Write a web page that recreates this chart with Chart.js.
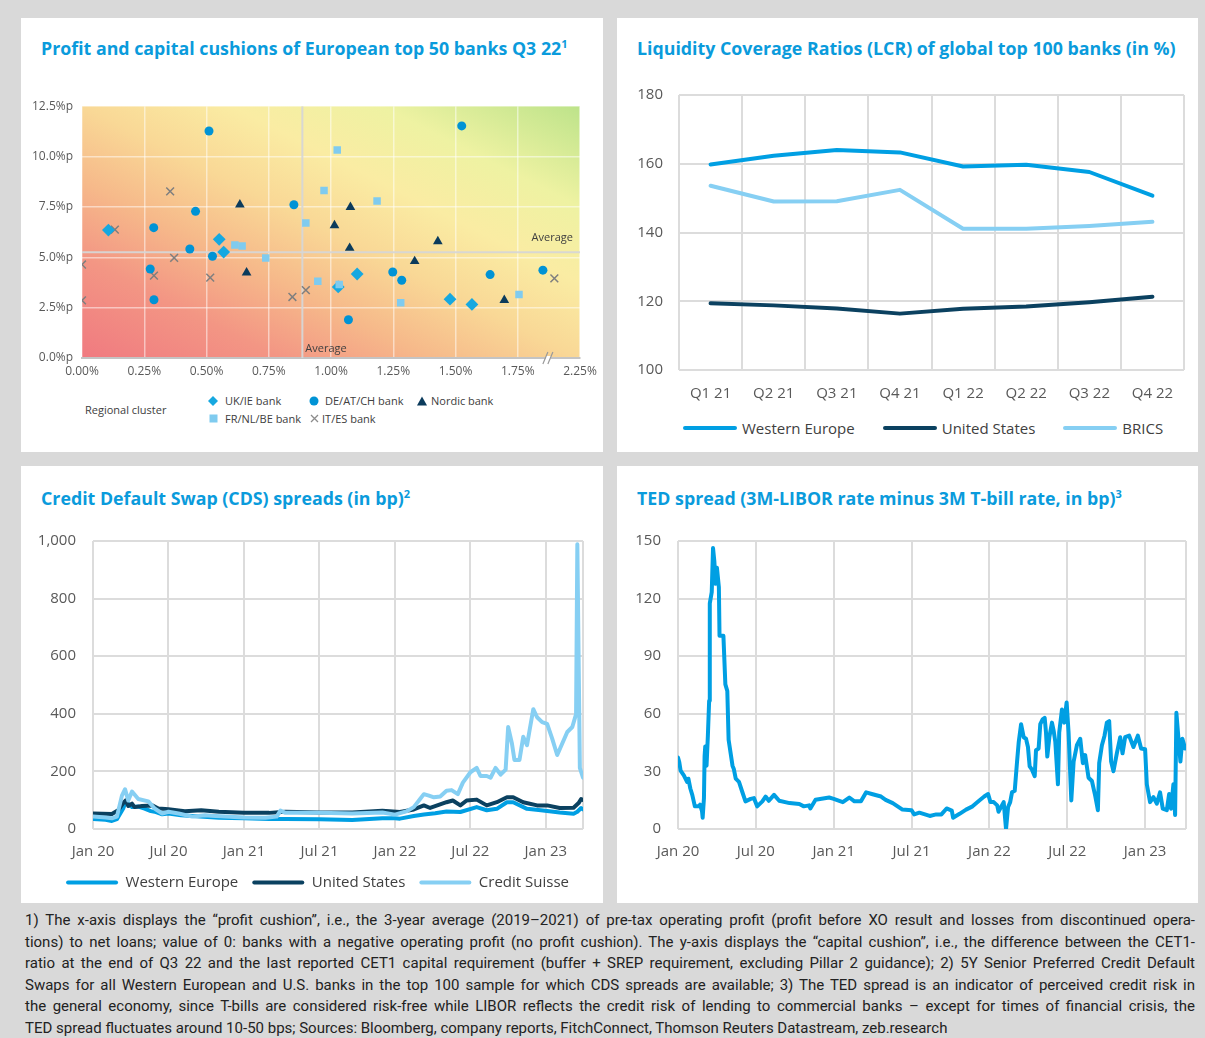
<!DOCTYPE html>
<html>
<head>
<meta charset="utf-8">
<script src="https://cdn.jsdelivr.net/npm/chart.js@4.4.1/dist/chart.umd.min.js"></script>
<style>
  body { margin: 0; width: 1205px; height: 1038px; background: #d9d9d9; position: relative; overflow: hidden; font-family: 'Open Sans', sans-serif; }
  .panel { position: absolute; background: #fff; }
  .title { position: absolute; color: #0a9bdc; font-weight: bold; font-size: 17.8px; line-height: 22px; white-space: nowrap; }
  .title sup { font-size: 11px; line-height: 0; vertical-align: 7px; }
  canvas { position: absolute; }
  .lg { position: absolute; font-size: 11px; line-height: 16px; color: #404040; white-space: nowrap; }
  .sym { position: absolute; }
  #lcrLegend { position: absolute; left: 683px; top: 418px; display: flex; gap: 28px; font-size: 15px; line-height: 20px; color: #404040; white-space: nowrap; }
  #lcrLegend span { display: flex; align-items: center; }
  #lcrLegend i { display: inline-block; width: 54px; height: 4px; border-radius: 2px; margin-right: 5px; }
  .note { position: absolute; left: 25px; top: 910px; width: 1170px; font-family: Roboto, sans-serif; font-size: 15px; line-height: 21.6px; color: #222; }
  .note div { white-space: nowrap; text-align: justify; text-align-last: justify; }
  .note div.last { text-align-last: left; }
</style>
</head>
<body>
<div class="panel" style="left:21px;top:18px;width:582px;height:434px"></div>
<div class="panel" style="left:617px;top:18px;width:581px;height:434px"></div>
<div class="panel" style="left:21px;top:466px;width:582px;height:437px"></div>
<div class="panel" style="left:617px;top:466px;width:581px;height:437px"></div>

<div class="title" style="left:41px;top:37px">Profit and capital cushions of European top 50 banks Q3 22<sup>1</sup></div>
<div class="title" style="left:637px;top:37px">Liquidity Coverage Ratios (LCR) of global top 100 banks (in %)</div>
<div class="title" style="left:41px;top:487px">Credit Default Swap (CDS) spreads (in bp)<sup>2</sup></div>
<div class="title" style="left:637px;top:487px">TED spread (3M-LIBOR rate minus 3M T-bill rate, in bp)<sup>3</sup></div>

<canvas id="cushions" width="582" height="300" style="left:21px;top:90px"></canvas>
<canvas id="lcr" width="581" height="340" style="left:617px;top:70px"></canvas>
<div id="lcrLegend"></div>
<canvas id="cds" width="582" height="385" style="left:21px;top:515px"></canvas>
<canvas id="ted" width="581" height="380" style="left:617px;top:515px"></canvas>

<!-- legend of the scatter -->
<div class="lg" style="left:85px;top:402px">Regional cluster</div>
<svg class="sym" style="left:208px;top:396px" width="10" height="10"><polygon points="5,0 10,5 5,10 0,5" fill="#16a8e0"/></svg>
<div class="lg" style="left:225px;top:393px">UK/IE bank</div>
<svg class="sym" style="left:309px;top:396px" width="10" height="10"><circle cx="5" cy="5" r="4.5" fill="#0093d5"/></svg>
<div class="lg" style="left:325px;top:393px">DE/AT/CH bank</div>
<svg class="sym" style="left:417px;top:396px" width="10" height="10"><polygon points="5,0.5 10,9.5 0,9.5" fill="#0b3b5c"/></svg>
<div class="lg" style="left:431px;top:393px">Nordic bank</div>
<svg class="sym" style="left:208.5px;top:414px" width="9" height="9"><rect x="0.5" y="0.5" width="8" height="8" fill="#7fcbef"/></svg>
<div class="lg" style="left:225px;top:411px">FR/NL/BE bank</div>
<svg class="sym" style="left:310px;top:414px" width="9" height="9"><path d="M1,1 L8,8 M8,1 L1,8" stroke="#8c8c8c" stroke-width="1.3"/></svg>
<div class="lg" style="left:322px;top:411px">IT/ES bank</div>

<div class="note">
  <div>1) The x-axis displays the “profit cushion”, i.e., the 3-year average (2019–2021) of pre-tax operating profit (profit before XO result and losses from discontinued opera-</div>
  <div>tions) to net loans; value of 0: banks with a negative operating profit (no profit cushion). The y-axis displays the “capital cushion”, i.e., the difference between the CET1-</div>
  <div>ratio at the end of Q3 22 and the last reported CET1 capital requirement (buffer + SREP requirement, excluding Pillar 2 guidance); 2) 5Y Senior Preferred Credit Default</div>
  <div>Swaps for all Western European and U.S. banks in the top 100 sample for which CDS spreads are available; 3) The TED spread is an indicator of perceived credit risk in</div>
  <div>the general economy, since T-bills are considered risk-free while LIBOR reflects the credit risk of lending to commercial banks – except for times of financial crisis, the</div>
  <div class="last">TED spread fluctuates around 10-50 bps; Sources: Bloomberg, company reports, FitchConnect, Thomson Reuters Datastream, zeb.research</div>
</div>

<script>
// ---------- profit / capital cushions (x = profit cushion in %, y = capital cushion in %p) ----------
const scatterXTickValues = [0, 0.25, 0.5, 0.75, 1, 1.25, 1.5, 1.75, 2];
const scatterXTicks = ['0.00%', '0.25%', '0.50%', '0.75%', '1.00%', '1.25%', '1.50%', '1.75%', '2.25%'];
const scatterYTicks = ['0.0%p', '2.5%p', '5.0%p', '7.5%p', '10.0%p', '12.5%p'];
const avgProfitCushion = 0.885;
const avgCapitalCushion = 5.25;

const ukIeProfit = [0.106, 0.551, 0.569, 1.105, 1.029, 1.478, 1.566];
const ukIeCapital = [6.35, 5.89, 5.26, 4.17, 3.53, 2.92, 2.66];
const deAtChProfit = [0.510, 0.456, 0.288, 0.433, 0.524, 0.274, 0.289, 0.851, 1.525, 1.248, 1.284, 1.070, 1.639, 1.851];
const deAtChCapital = [11.27, 7.28, 6.47, 5.41, 5.05, 4.42, 2.89, 7.61, 11.52, 4.27, 3.86, 1.90, 4.14, 4.36];
const nordicProfit = [0.634, 0.661, 1.078, 1.014, 1.075, 1.429, 1.336, 1.696];
const nordicCapital = [7.61, 4.24, 7.49, 6.58, 5.46, 5.79, 4.80, 2.87];
const frNlBeProfit = [0.614, 0.643, 0.738, 0.899, 0.947, 1.025, 0.972, 1.185, 1.033, 1.280, 1.755];
const frNlBeCapital = [5.61, 5.56, 4.97, 6.70, 3.81, 10.33, 8.32, 7.79, 3.65, 2.74, 3.15];
const itEsProfit = [0.354, 0.132, 0.370, 0.0, 0.289, 0.515, 0.0, 0.845, 0.899, 1.897];
const itEsCapital = [8.27, 6.37, 4.97, 4.64, 4.09, 3.99, 2.86, 3.03, 3.37, 3.95];

// ---------- LCR ----------
const lcrQuarters = ['Q1 21', 'Q2 21', 'Q3 21', 'Q4 21', 'Q1 22', 'Q2 22', 'Q3 22', 'Q4 22'];
const lcrWesternEurope = [159.8, 162.3, 164.0, 163.3, 159.2, 159.7, 157.6, 150.7];
const lcrUnitedStates = [119.4, 118.8, 117.9, 116.4, 117.8, 118.5, 119.7, 121.3];
const lcrBrics = [153.6, 149.0, 149.1, 152.4, 141.1, 141.1, 141.9, 143.1];

// ---------- time axis (months since Jan 2020) ----------
const timeTickMonths = [0, 6, 12, 18, 24, 30, 36];
const timeTickLabels = ['Jan 20', 'Jul 20', 'Jan 21', 'Jul 21', 'Jan 22', 'Jul 22', 'Jan 23'];

// ---------- CDS spreads ----------
const cdsYTicks = ['0', '200', '400', '600', '800', '1,000'];
const cdsWeMonths = [0, 1, 1.5, 1.9, 2.4, 2.6, 2.8, 3.1, 3.6, 4.1, 4.6, 4.9, 5.5, 6, 7, 8.5, 10, 12, 14, 15.3, 18, 20.6, 23, 24, 24.4, 25.5, 26.3, 27.2, 28.1, 29.2, 30.5, 31.3, 32.1, 32.9, 33.4, 34.5, 35.6, 37.1, 38.2, 38.5, 38.8, 38.95];
const cdsWesternEurope = [35, 32, 28, 34, 71, 95, 88, 76, 78, 71, 62, 60, 51, 54, 48, 43, 39, 37, 35, 35, 34, 31, 37, 37, 36, 45, 50, 55, 61, 59, 76, 65, 70, 93, 93, 70, 65, 57, 53, 60, 73, 68];
const cdsUsMonths = [0, 1.5, 2.0, 2.4, 2.6, 2.8, 3.1, 3.3, 3.9, 4.7, 5.2, 6, 7.3, 8.6, 10, 12, 14, 15.3, 18, 20.6, 23, 24.4, 25.5, 26.3, 26.8, 28.1, 28.6, 29.2, 29.7, 30.5, 31.3, 32.1, 32.9, 33.4, 34.2, 35.3, 36.1, 37.1, 38.2, 38.6, 38.8, 38.95];
const cdsUnitedStates = [54, 52, 65, 90, 99, 80, 88, 76, 80, 82, 71, 69, 62, 65, 60, 56, 56, 60, 57, 57, 63, 59, 68, 82, 73, 93, 99, 82, 99, 102, 82, 93, 110, 110, 93, 82, 82, 73, 74, 90, 104, 101];
const cdsCsMonths = [0, 1, 1.5, 1.9, 2.3, 2.55, 2.8, 3.1, 3.6, 4.4, 4.9, 5.5, 6, 6.8, 7.9, 8.9, 9.4, 10.5, 12, 13.7, 14.6, 14.9, 15.3, 18, 20.6, 23, 24, 24.9, 25.5, 26, 26.3, 26.7, 27.1, 27.6, 28.1, 28.5, 29.0, 29.4, 30, 30.5, 30.8, 31.3, 31.6, 32, 32.4, 32.8, 33.0, 33.3, 33.5, 33.9, 34.2, 34.5, 34.7, 35, 35.3, 35.7, 36.1, 36.5, 36.9, 37.3, 37.7, 38.1, 38.4, 38.5, 38.7, 38.95];
const cdsCreditSuisse = [43, 40, 37, 43, 116, 138, 99, 130, 104, 96, 71, 54, 60, 54, 43, 48, 46, 43, 40, 39, 43, 64, 56, 56, 54, 57, 50, 61, 76, 104, 121, 116, 110, 113, 133, 135, 121, 161, 197, 212, 184, 184, 178, 212, 189, 206, 354, 297, 240, 240, 320, 291, 342, 416, 388, 371, 365, 314, 257, 297, 337, 354, 399, 989, 212, 178];

// ---------- TED spread ----------
const tedMonths = [0, 0.1, 0.2, 0.45, 0.7, 0.8, 0.95, 1.1, 1.3, 1.6, 1.7, 1.85, 1.9, 2.0, 2.05, 2.1, 2.2, 2.3, 2.4, 2.45, 2.6, 2.7, 2.8, 2.9, 3.0, 3.15, 3.2, 3.5, 3.65, 3.8, 3.9, 4.2, 4.3, 4.45, 4.7, 4.95, 5.2, 5.6, 5.85, 6.1, 6.5, 6.75, 7.0, 7.4, 7.8, 8.6, 9.35, 9.7, 10.1, 10.2, 10.6, 11.65, 12.0, 12.7, 13.2, 13.6, 14.1, 14.5, 15.0, 15.65, 16.0, 16.55, 17.3, 18.0, 18.2, 18.6, 19.4, 19.9, 20.3, 20.7, 21.1, 21.2, 21.7, 22.2, 22.7, 23.2, 23.6, 23.9, 24.08, 24.33, 24.6, 24.7, 24.9, 25.1, 25.28, 25.44, 25.6, 25.74, 25.95, 26.13, 26.26, 26.44, 26.64, 26.82, 26.97, 27.1, 27.28, 27.49, 27.59, 27.79, 27.92, 28.1, 28.26, 28.36, 28.46, 28.62, 28.82, 28.95, 29.08, 29.28, 29.38, 29.59, 29.77, 29.95, 30.1, 30.31, 30.49, 30.74, 31.0, 31.2, 31.38, 31.64, 31.9, 32.15, 32.36, 32.46, 32.67, 32.87, 33.05, 33.23, 33.38, 33.56, 33.82, 34.08, 34.26, 34.46, 34.77, 35.1, 35.44, 35.69, 36.0, 36.13, 36.38, 36.64, 36.9, 37.15, 37.36, 37.67, 37.85, 38.0, 38.18, 38.31, 38.41, 38.56, 38.72, 38.87, 39.08];
const tedSpread = [37.2, 34.7, 30.4, 27.9, 24.5, 26.2, 21.1, 17.8, 11.8, 11.8, 12.7, 9.3, 5.9, 16.1, 38, 43, 33, 48.2, 66.8, 117.5, 123.4, 146.3, 139.5, 127.7, 136.1, 126, 100.6, 100.6, 75.3, 71.9, 46.5, 33, 31.3, 26.2, 24.5, 19.4, 14.4, 15.7, 16.1, 11.8, 14.4, 16.9, 14.7, 17.8, 14.7, 13.5, 13.0, 11.8, 12.3, 10.7, 15.2, 16.4, 15.7, 14.0, 16.4, 14.4, 14.4, 19.1, 18.1, 16.9, 15.2, 13.5, 10.1, 9.8, 7.6, 8.5, 6.8, 7.6, 7.6, 10.7, 9.6, 5.9, 7.9, 10.1, 11.8, 14.7, 16.9, 18.2, 14.0, 14.0, 12.3, 9.0, 11.5, 14.0, 0.0, 11.5, 14.0, 19.1, 19.9, 35.1, 45.3, 54.6, 47.8, 47.0, 42.7, 32.6, 30.9, 27.5, 41.0, 41.9, 54.6, 57.1, 57.9, 50.3, 37.7, 47.8, 55.4, 51.2, 45.3, 23.3, 50.3, 62.2, 55.4, 65.9, 50.3, 14.9, 35.1, 43.6, 47.0, 34.3, 38.5, 26.7, 25.0, 17.4, 9.8, 34.3, 43.6, 48.6, 55.4, 56.2, 35.1, 30.1, 39.4, 47.8, 39.4, 47.8, 48.6, 42.7, 48.6, 41.9, 41.5, 23.3, 14.0, 16.6, 13.2, 19.1, 10.6, 9.8, 18.2, 10.6, 23.3, 7.3, 60.5, 47.8, 35.1, 47.0, 41.9];

// ---------- helpers ----------
Chart.defaults.font.family = "'Open Sans', sans-serif";
Chart.defaults.color = '#595959';

const BLUE = '#009fe3';
const NAVY = '#0b4160';
const LIGHT = '#86cff3';
const GRID = '#dcdcdc';

function points(xs, ys) {
    return xs.map((x, i) => ({ x: x, y: ys[i] }));
}

function lineSet(label, data, color, width, order) {
    return {
        label: label, data: data, order: order,
        borderColor: color, backgroundColor: color, borderWidth: width,
        pointRadius: 0, tension: 0, borderJoinStyle: 'round', borderCapStyle: 'round'
    };
}

function bankSet(label, xs, ys, style, radius, color) {
    return {
        label: label, data: points(xs, ys), pointStyle: style, pointRadius: radius,
        backgroundColor: color, borderColor: color, borderWidth: style === 'crossRot' ? 1.5 : 0
    };
}

// legend swatches as flat bars without outline
function flatLabels(chart) {
    return Chart.defaults.plugins.legend.labels.generateLabels(chart).map(item => {
        item.lineWidth = 0;
        return item;
    });
}

const rightEdge = {
    id: 'rightEdge',
    beforeDatasetsDraw(chart) {
        const { ctx, chartArea } = chart;
        ctx.save();
        ctx.strokeStyle = GRID;
        ctx.lineWidth = 2;
        ctx.beginPath();
        ctx.moveTo(chartArea.right, chartArea.top);
        ctx.lineTo(chartArea.right, chartArea.bottom);
        ctx.stroke();
        ctx.restore();
    }
};

// red -> yellow -> green background of the cushion chart
const cushionBackground = {
    id: 'cushionBackground',
    beforeDraw(chart) {
        const { ctx, chartArea } = chart;
        const w = chartArea.right - chartArea.left;
        const h = chartArea.bottom - chartArea.top;
        const cx = chartArea.left + w / 2;
        const cy = chartArea.top + h / 2;
        const k = w * h / (w * w + h * h);
        const g = ctx.createLinearGradient(cx - h * k, cy + w * k, cx + h * k, cy - w * k);
        g.addColorStop(0, '#f07a80');
        g.addColorStop(0.2, '#f39684');
        g.addColorStop(0.35, '#f6b98a');
        g.addColorStop(0.5, '#f9d896');
        g.addColorStop(0.65, '#faeca3');
        g.addColorStop(0.8, '#eef2a2');
        g.addColorStop(1, '#bde38a');
        ctx.save();
        ctx.fillStyle = g;
        ctx.fillRect(chartArea.left, chartArea.top, w, h);
        ctx.restore();
    }
};

const cushionNotes = {
    id: 'cushionNotes',
    afterDraw(chart) {
        const { ctx, chartArea } = chart;
        const x = chart.scales.x, y = chart.scales.y;
        ctx.save();
        ctx.font = "11px 'Open Sans', sans-serif";
        ctx.fillStyle = '#404040';
        ctx.textBaseline = 'middle';
        ctx.textAlign = 'right';
        ctx.fillText('Average', chartArea.right - 7, y.getPixelForValue(avgCapitalCushion) - 14);
        ctx.textAlign = 'left';
        ctx.fillText('Average', x.getPixelForValue(avgProfitCushion) + 3, chartArea.bottom - 9);

        // axis break
        const bx = x.getPixelForValue(1.875);
        const by = chartArea.bottom;
        ctx.fillStyle = '#ffffff';
        ctx.fillRect(bx - 3, by - 2, 5, 4);
        ctx.strokeStyle = '#9a9a9a';
        ctx.lineWidth = 1.2;
        ctx.beginPath();
        ctx.moveTo(bx - 6, by + 6); ctx.lineTo(bx - 1, by - 6);
        ctx.moveTo(bx - 1, by + 6); ctx.lineTo(bx + 4, by - 6);
        ctx.stroke();
        ctx.restore();
    }
};

// ---------- chart 1: cushions ----------
new Chart(document.getElementById('cushions'), {
    type: 'scatter',
    data: {
        datasets: [
            bankSet('FR/NL/BE bank', frNlBeProfit, frNlBeCapital, 'rect', 5.3, '#7fcbef'),
            bankSet('UK/IE bank', ukIeProfit, ukIeCapital, 'rectRot', 6.4, '#16a8e0'),
            bankSet('DE/AT/CH bank', deAtChProfit, deAtChCapital, 'circle', 4.5, '#0093d5'),
            bankSet('Nordic bank', nordicProfit, nordicCapital, 'triangle', 5.6, '#0b3b5c'),
            bankSet('IT/ES bank', itEsProfit, itEsCapital, 'crossRot', 5.5, '#7f7f7f'),
            {
                label: 'Average capital cushion', showLine: true, pointRadius: 0,
                borderColor: 'rgba(214,214,214,0.95)', borderWidth: 2,
                data: [{ x: 0, y: avgCapitalCushion }, { x: 2, y: avgCapitalCushion }]
            },
            {
                label: 'Average profit cushion', showLine: true, pointRadius: 0,
                borderColor: 'rgba(214,214,214,0.95)', borderWidth: 2,
                data: [{ x: avgProfitCushion, y: 0 }, { x: avgProfitCushion, y: 12.5 }]
            }
        ]
    },
    options: {
        responsive: false,
        animation: false,
        layout: { padding: { top: 15, right: 23, bottom: 0, left: 0 } },
        plugins: { legend: { display: false }, tooltip: { enabled: false } },
        scales: {
            x: {
                type: 'linear', min: 0, max: 2,
                afterBuildTicks: axis => { axis.ticks = scatterXTickValues.map(v => ({ value: v })); },
                ticks: { callback: (v, i) => scatterXTicks[i], font: { size: 12 }, padding: 6, maxRotation: 0, autoSkip: false },
                grid: { color: 'rgba(255,255,255,0.5)', lineWidth: 1.5, drawTicks: false },
                border: { display: true, color: '#c4c4c4', width: 2 },
                afterFit: s => { s.height = 32; }
            },
            y: {
                min: 0, max: 12.5,
                ticks: { stepSize: 2.5, callback: (v, i) => scatterYTicks[i], font: { size: 12 }, padding: 9 },
                grid: { color: 'rgba(255,255,255,0.5)', lineWidth: 1.5, drawTicks: false },
                border: { display: false },
                afterFit: s => { s.width = 61; }
            }
        }
    },
    plugins: [cushionBackground, cushionNotes]
});

// ---------- chart 2: LCR ----------
const lcrChart = new Chart(document.getElementById('lcr'), {
    type: 'line',
    data: {
        labels: lcrQuarters,
        datasets: [
            lineSet('Western Europe', lcrWesternEurope, BLUE, 4, 0),
            lineSet('United States', lcrUnitedStates, NAVY, 4, 1),
            lineSet('BRICS', lcrBrics, LIGHT, 4, 2)
        ]
    },
    options: {
        responsive: false,
        animation: false,
        layout: { padding: { top: 20, right: 14, bottom: 0, left: 0 } },
        plugins: { legend: { display: false }, tooltip: { enabled: false } },
        scales: {
            x: {
                offset: true,
                grid: { offset: true, color: GRID, lineWidth: 2, drawTicks: false },
                border: { display: false },
                ticks: { font: { size: 15 }, padding: 15, maxRotation: 0 },
                afterFit: s => { s.height = 40; }
            },
            y: {
                min: 100, max: 180,
                ticks: { stepSize: 20, font: { size: 15 }, padding: 16 },
                grid: { color: GRID, lineWidth: 2, drawTicks: false },
                border: { display: false },
                afterFit: s => { s.width = 62; }
            }
        }
    }
});

// legend of the LCR chart, built from its datasets
const lcrLegend = document.getElementById('lcrLegend');
lcrChart.data.datasets.forEach(ds => {
    const item = document.createElement('span');
    const swatch = document.createElement('i');
    swatch.style.background = ds.borderColor;
    item.appendChild(swatch);
    item.appendChild(document.createTextNode(ds.label));
    lcrLegend.appendChild(item);
});

// ---------- chart 3: CDS ----------
new Chart(document.getElementById('cds'), {
    type: 'line',
    data: {
        datasets: [
            lineSet('Western Europe', points(cdsWeMonths, cdsWesternEurope), BLUE, 4, 2),
            lineSet('United States', points(cdsUsMonths, cdsUnitedStates), NAVY, 4, 1),
            lineSet('Credit Suisse', points(cdsCsMonths, cdsCreditSuisse), LIGHT, 4, 0)
        ]
    },
    options: {
        responsive: false,
        animation: false,
        layout: { padding: { top: 18, right: 20, bottom: 0, left: 0 } },
        plugins: {
            legend: {
                position: 'bottom', align: 'end',
                labels: {
                    boxWidth: 52, boxHeight: 4, padding: 14, color: '#404040', font: { size: 15 },
                    useBorderRadius: true, borderRadius: 2,
                    generateLabels: flatLabels,
                    sort: (a, b) => a.datasetIndex - b.datasetIndex
                }
            },
            tooltip: { enabled: false }
        },
        scales: {
            x: {
                type: 'linear', min: 0, max: 38.95,
                afterBuildTicks: axis => { axis.ticks = timeTickMonths.map(v => ({ value: v })); },
                ticks: { callback: (v, i) => timeTickLabels[i], font: { size: 15 }, padding: 14, maxRotation: 0, autoSkip: false },
                grid: { color: GRID, lineWidth: 2, drawTicks: false },
                border: { display: false },
                afterFit: s => { s.height = 32; }
            },
            y: {
                min: 0, max: 1000,
                ticks: { stepSize: 200, callback: (v, i) => cdsYTicks[i], font: { size: 15 }, padding: 17 },
                grid: { color: GRID, lineWidth: 2, drawTicks: false },
                border: { display: false },
                afterFit: s => { s.width = 72; }
            }
        }
    },
    plugins: [rightEdge]
});

// ---------- chart 4: TED spread ----------
new Chart(document.getElementById('ted'), {
    type: 'line',
    data: {
        datasets: [lineSet('TED spread', points(tedMonths, tedSpread), BLUE, 4, 0)]
    },
    options: {
        responsive: false,
        animation: false,
        layout: { padding: { top: 18, right: 12, bottom: 0, left: 0 } },
        plugins: { legend: { display: false }, tooltip: { enabled: false } },
        scales: {
            x: {
                type: 'linear', min: 0, max: 39.15,
                afterBuildTicks: axis => { axis.ticks = timeTickMonths.map(v => ({ value: v })); },
                ticks: { callback: (v, i) => timeTickLabels[i], font: { size: 15 }, padding: 14, maxRotation: 0, autoSkip: false },
                grid: { color: GRID, lineWidth: 2, drawTicks: false },
                border: { display: false },
                afterFit: s => { s.height = 66; }
            },
            y: {
                min: 0, max: 150,
                ticks: { stepSize: 30, font: { size: 15 }, padding: 17 },
                grid: { color: GRID, lineWidth: 2, drawTicks: false },
                border: { display: false },
                afterFit: s => { s.width = 61; }
            }
        }
    },
    plugins: [rightEdge]
});
</script>
</body>
</html>
